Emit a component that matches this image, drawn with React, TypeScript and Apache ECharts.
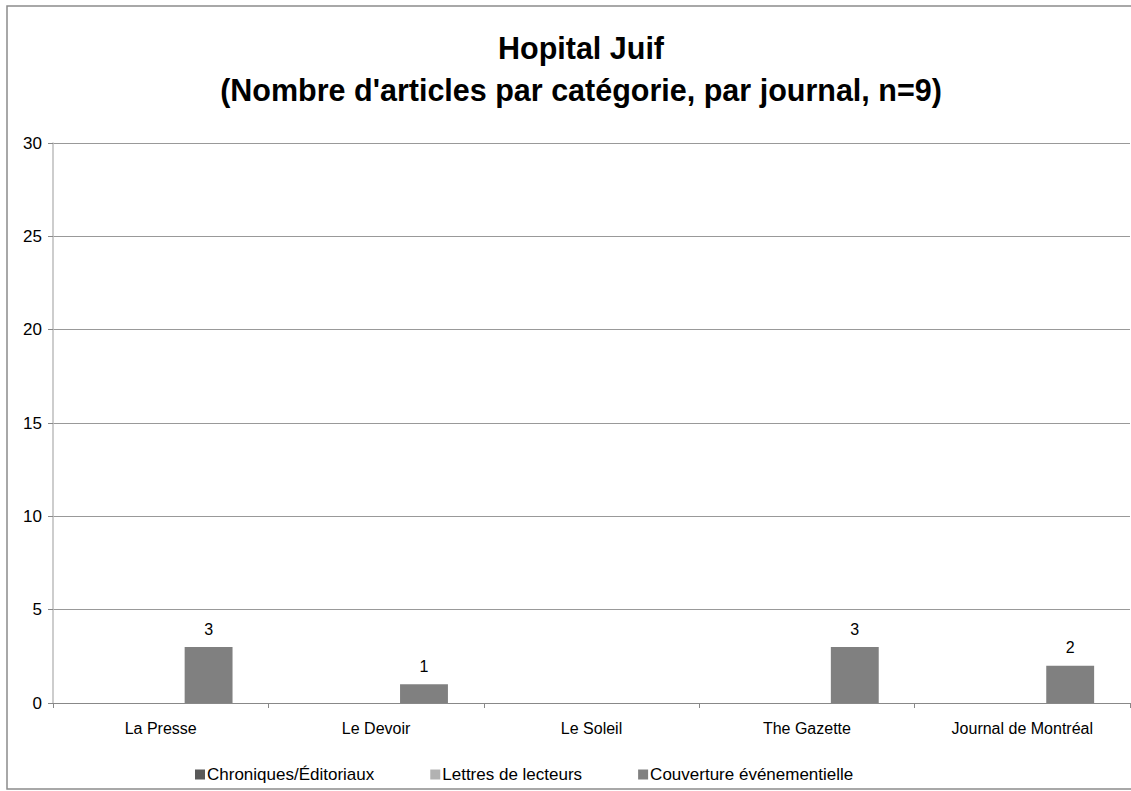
import React, { useEffect, useRef } from "react";
import * as echarts from "echarts";

const categories = ["La Presse", "Le Devoir", "Le Soleil", "The Gazette", "Journal de Montréal"];
const seriesNames = ["Chroniques/Éditoriaux", "Lettres de lecteurs", "Couverture événementielle"];
const chroniques = [0, 0, 0, 0, 0];
const lettres = [0, 0, 0, 0, 0];
const couverture = [3, 1, 0, 3, 2];
const seriesColors = ["#595959", "#b2b2b2", "#808080"];
const yTicks = { min: 0, max: 30, interval: 5 };

const FONT = "'Liberation Sans', Arial, sans-serif";

export default function App() {
  const ref = useRef<HTMLDivElement>(null);
  useEffect(() => {
    document.body.style.margin = "0";
    if (!ref.current) return;
    const chart = echarts.init(ref.current, null, { renderer: "svg" });
    const values = [chroniques, lettres, couverture];
    chart.setOption({
      animation: false,
      backgroundColor: "#ffffff",
      textStyle: { fontFamily: FONT },
      title: {
        text: "Hopital Juif\n(Nombre d'articles par catégorie, par journal, n=9)",
        left: 576,
        textAlign: "center",
        top: 22,
        textStyle: { fontFamily: FONT, fontSize: 30.5, fontWeight: "bold", color: "#000", lineHeight: 42 },
      },
      graphic: [
        {
          type: "polyline",
          shape: { points: [[1131, 6], [7, 6], [7, 789], [1131, 789]] },
          style: { fill: "none", stroke: "#8c8c8c", lineWidth: 1.5 },
          silent: true,
          z: -1,
        },
      ],
      legend: {
        left: 190,
        top: 761,
        itemWidth: 10,
        itemHeight: 10,
        itemGap: 56,
        icon: "rect",
        textStyle: { fontFamily: FONT, fontSize: 17, color: "#000", padding: [0, 0, 0, -3] },
        data: seriesNames,
      },
      grid: { left: 53, right: 1, top: 143, bottom: 88, containLabel: false },
      xAxis: {
        type: "category",
        data: categories,
        axisLine: { lineStyle: { color: "#888", width: 1 } },
        axisTick: { show: true, length: 5, lineStyle: { color: "#888" } },
        axisLabel: { fontFamily: FONT, fontSize: 16, color: "#000", margin: 17 },
      },
      yAxis: {
        type: "value",
        min: yTicks.min,
        max: yTicks.max,
        interval: yTicks.interval,
        axisLine: { show: true, lineStyle: { color: "#bdbdbd", width: 1.5 } },
        axisTick: { show: true, length: 5, lineStyle: { color: "#888" } },
        axisLabel: { fontFamily: FONT, fontSize: 17, color: "#000", margin: 11 },
        splitLine: { lineStyle: { color: "#999", width: 1 } },
      },
      series: seriesNames.map((name, i) => ({
        name,
        type: "bar",
        data: values[i],
        barGap: "0%",
        barCategoryGap: "33.3%",
        itemStyle: { color: seriesColors[i] },
        label: {
          show: true,
          position: "top",
          distance: 10,
          fontFamily: FONT,
          fontSize: 16,
          color: "#000",
          formatter: (p: any) => (p.value ? String(p.value) : ""),
        },
      })),
    });
    return () => chart.dispose();
  }, []);
  return (
    <div
      ref={ref}
      style={{ position: "fixed", left: 0, top: 0, width: 1131, height: 791 }}
    />
  );
}
